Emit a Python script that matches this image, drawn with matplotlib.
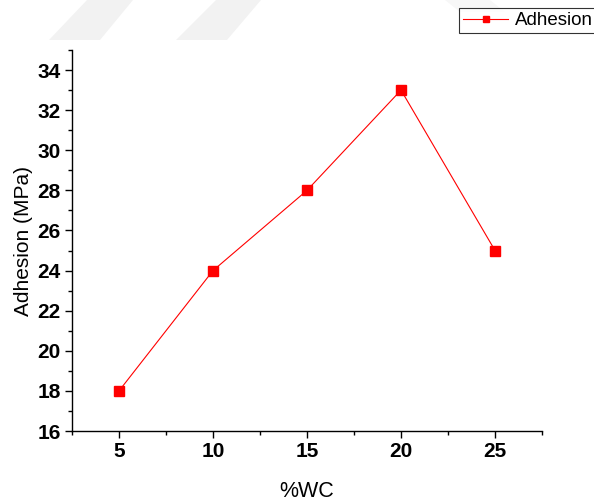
import matplotlib
matplotlib.use("Agg")
import matplotlib.pyplot as plt
from matplotlib.patches import Polygon
from matplotlib.ticker import MultipleLocator

wc_percent = [5, 10, 15, 20, 25]
adhesion_mpa = [18, 24, 28, 33, 25]

plt.rcParams['font.family'] = ['Liberation Sans', 'DejaVu Sans']

W, H = 594, 501
fig = plt.figure(figsize=(W / 100, H / 100), dpi=100)


def px(x, y):
    return (x / W, 1 - y / H)


# faint background stripes at the top of the page
for pts, col in (
    ([(87, 0), (133, 0), (100, 40), (49, 40)], '#f2f2f2'),
    ([(216, 0), (261, 0), (227, 40), (176, 40)], '#f2f2f2'),
    ([(445, 0), (490, 0), (505, 12), (460, 12)], '#f7f7f7'),
):
    fig.patches.append(Polygon([px(*p) for p in pts], closed=True,
                               transform=fig.transFigure, facecolor=col,
                               edgecolor='none', zorder=0))

ax = fig.add_axes([0.1212, 0.1397, 0.7913, 0.7605])
ax.patch.set_alpha(0)

ax.plot(wc_percent, adhesion_mpa, color='red', lw=0.8, marker='s',
        markersize=6.5, markerfacecolor='red', markeredgecolor='red',
        label='Adhesion')

ax.set_xlim(2.5, 27.5)
ax.set_ylim(16, 35)
ax.xaxis.set_major_locator(MultipleLocator(5))
ax.xaxis.set_minor_locator(MultipleLocator(2.5))
ax.yaxis.set_minor_locator(MultipleLocator(1))
ax.set_yticks(range(16, 35, 2))

for side in ('top', 'right'):
    ax.spines[side].set_visible(False)
for side in ('left', 'bottom'):
    ax.spines[side].set_linewidth(1.0)

ax.tick_params(which='major', direction='out', length=5, width=1.0,
               labelsize=15, pad=3)
ax.tick_params(which='minor', direction='out', length=3, width=1.0)
for lab in ax.get_xticklabels() + ax.get_yticklabels():
    lab.set_fontweight('bold')

ax.set_xlabel('%WC', fontsize=15.5, labelpad=14)
ax.set_ylabel('Adhesion (MPa)', fontsize=15, labelpad=3)

leg = fig.legend(loc='upper left', bbox_to_anchor=px(459, 8),
                 fontsize=13.5, frameon=True, fancybox=False,
                 handlelength=2.4, borderpad=0.22, handletextpad=0.35,
                 borderaxespad=0, markerscale=0.75)
leg.get_frame().set_edgecolor('black')
leg.get_frame().set_linewidth(0.8)

fig.savefig('out.png', dpi=100)
